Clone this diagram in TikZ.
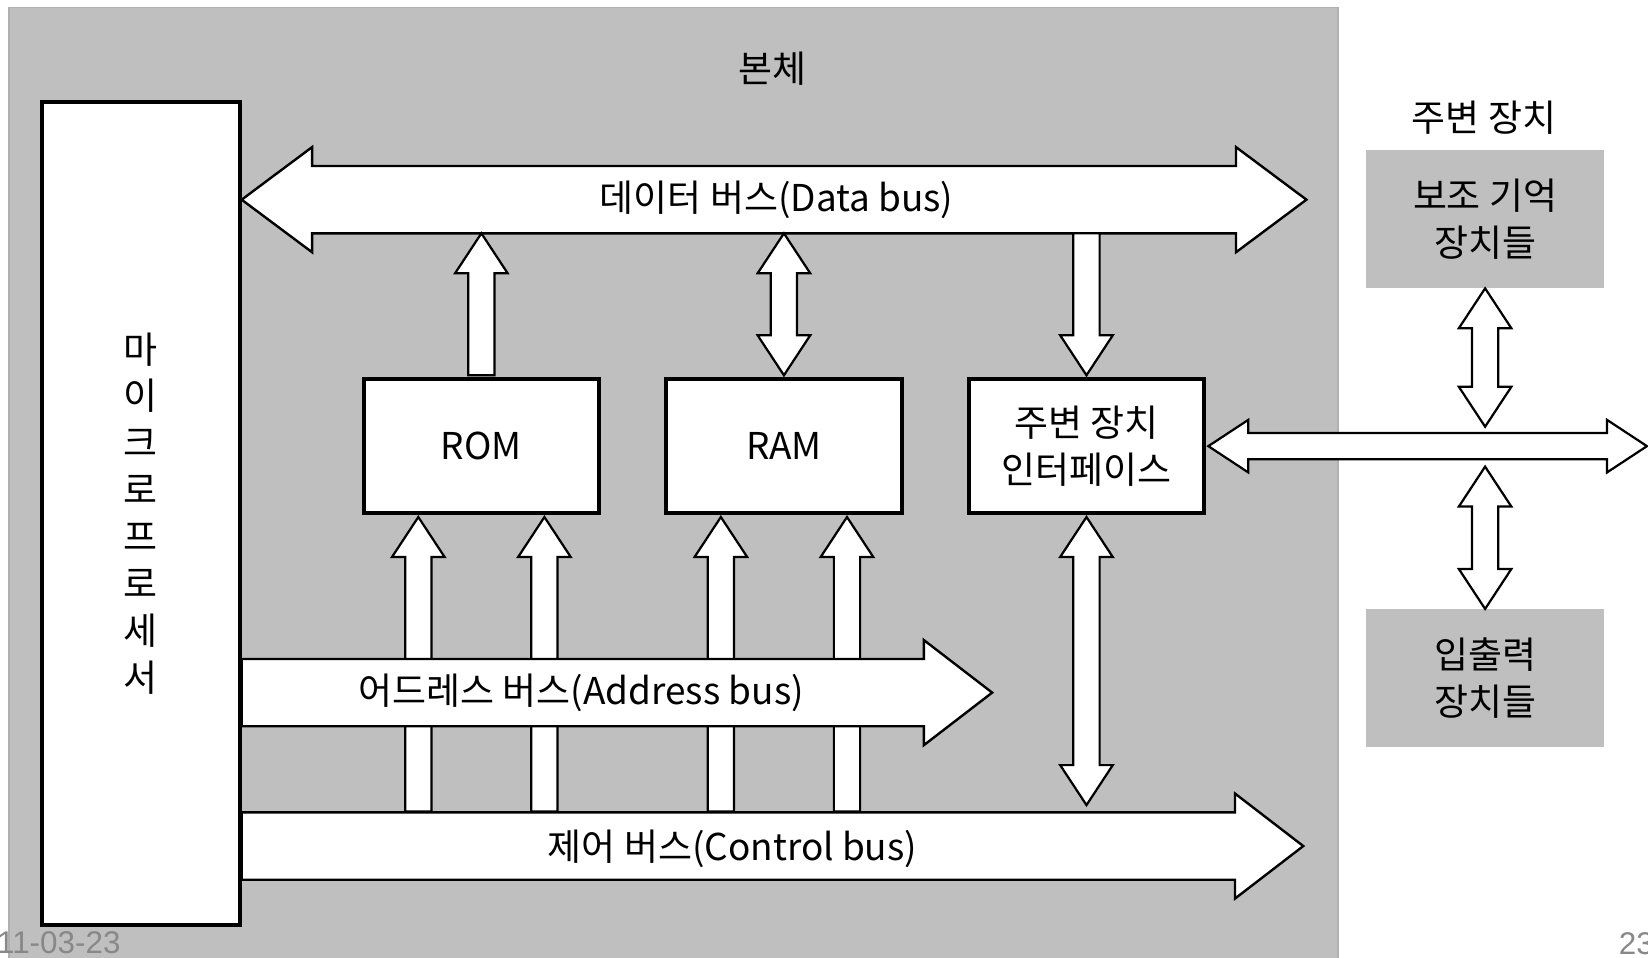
\documentclass[tikz,border=0pt]{standalone}
\usepackage{fontspec}
\setmainfont{Noto Sans CJK KR}
\newfontfamily\footfont{Liberation Sans}
\usetikzlibrary{calc,positioning}
\definecolor{MCgray}{RGB}{191,191,191}
\definecolor{MCedge}{RGB}{176,176,176}
\definecolor{MCfoot}{RGB}{136,136,136}
\tikzset{
  mc text/.style={font=\fontsize{20}{25}\selectfont, inner sep=0pt},
  mc panel/.style={
    fill=MCgray,
    draw=MCedge,
    line width=1pt,
    inner sep=0pt
  },
  mc box/.style={
    mc text,
    draw=black,
    line width=2.2pt,
    fill=white,
    minimum width=4.48cm,
    minimum height=2.54cm,
    align=center
  },
  mc device/.style={
    mc text,
    fill=MCgray,
    minimum width=4.52cm,
    minimum height=2.62cm,
    align=center
  },
  mc block/.style={draw=black, line width=1.2pt, fill=white, line join=miter},
  mc one/.style n args={3}{mc block, to path={
      ($(\tikztostart)!#1!-90:(\tikztotarget)$)
      -- ($(\tikztotarget)!#3!(\tikztostart)!#1!-90:(\tikztotarget)$)
      -- ($(\tikztotarget)!#3!(\tikztostart)!#2!-90:(\tikztotarget)$)
      -- (\tikztotarget)
      -- ($(\tikztotarget)!#3!(\tikztostart)!#2!90:(\tikztotarget)$)
      -- ($(\tikztotarget)!#3!(\tikztostart)!#1!90:(\tikztotarget)$)
      -- ($(\tikztostart)!#1!90:(\tikztotarget)$)
      -- cycle}},
  mc two/.style n args={3}{mc block, to path={
      (\tikztostart)
      -- ($(\tikztostart)!#3!(\tikztotarget)!#2!-90:(\tikztotarget)$)
      -- ($(\tikztostart)!#3!(\tikztotarget)!#1!-90:(\tikztotarget)$)
      -- ($(\tikztotarget)!#3!(\tikztostart)!#1!-90:(\tikztotarget)$)
      -- ($(\tikztotarget)!#3!(\tikztostart)!#2!-90:(\tikztotarget)$)
      -- (\tikztotarget)
      -- ($(\tikztotarget)!#3!(\tikztostart)!#2!90:(\tikztotarget)$)
      -- ($(\tikztotarget)!#3!(\tikztostart)!#1!90:(\tikztotarget)$)
      -- ($(\tikztostart)!#3!(\tikztotarget)!#1!90:(\tikztotarget)$)
      -- ($(\tikztostart)!#3!(\tikztotarget)!#2!90:(\tikztotarget)$)
      -- cycle}},
  mc bus/.style={mc one={0.64cm}{1.0cm}{1.3cm}, line width=1.3pt},
  mc bus both/.style={mc two={0.64cm}{1.0cm}{1.34cm}, line width=1.3pt},
  mc link/.style={mc one={0.25cm}{0.5cm}{0.76cm}},
  mc link both/.style={mc two={0.25cm}{0.5cm}{0.76cm}}
}

\begin{document}
\begin{tikzpicture}[x=1cm,y=1cm]
  \useasboundingbox (0,0) rectangle (31.36,18.22);

  \node[mc panel, anchor=south west, minimum width=25.28cm, minimum height=18.16cm]
    (body) at (0.16,-0.1) {};
  \node[mc text] (body-title) at (14.70,16.92) {본체};

  % chips inside the body
  \node[mc box, minimum width=3.76cm, minimum height=15.66cm,
    font=\fontsize{20}{25.4}\selectfont] (cpu) at (2.68,8.45)
    {마\\이\\크\\로\\프\\로\\세\\서};
  \node[mc box] (rom) at (9.16,9.73) {ROM};
  \node[mc box, right=1.2cm of rom] (ram) {RAM};
  \node[mc box, right=1.2cm of ram] (iface) {주변 장치\\인터페이스};

  \coordinate (data-e) at (24.86,14.42);
  \coordinate (data-bot) at (24.86,13.78);
  \coordinate (addr-e) at (18.88,5.04);
  \coordinate (ctrl-e) at (24.80,2.12);
  \coordinate (ctrl-top) at (24.80,2.78);

  % address lines run under the address bus
  \foreach \chip in {rom,ram}
    \foreach \dx in {-1.2,1.2}
      \draw[mc link] ($(\chip.south |- ctrl-top)+(\dx,0)$) to ($(\chip.south)+(\dx,-0.04)$);
  \draw[mc link both] ($(iface.south)+(0,-0.04)$) to ($(iface.south |- ctrl-top)+(0,0.12)$);

  \draw[mc bus] (cpu.east |- ctrl-e) to (ctrl-e);
  \draw[mc bus] (cpu.east |- addr-e) to (addr-e);
  \draw[mc bus both] (cpu.east |- data-e) to (data-e);

  \draw[mc link] ($(rom.north)+(0,0.04)$) to (rom.north |- data-bot);
  \draw[mc link both] ($(ram.north)+(0,0.04)$) to (ram.north |- data-bot);
  \draw[mc link] (iface.north |- data-bot) to ($(iface.north)+(0,0.04)$);

  \node[mc text] (data-label) at (14.78,14.42) {데이터 버스(Data bus)};
  \node[mc text] (addr-label) at (11.06,5.04) {어드레스 버스(Address bus)};
  \node[mc text] (ctrl-label) at (13.94,2.06) {제어 버스(Control bus)};

  % peripherals
  \node[mc text] (peri-title) at (28.24,15.98) {주변 장치};
  \node[mc device] (aux) at (28.26,14.05) {보조 기억\\장치들};
  \node[mc device, below=6.1cm of aux] (io) {입출력\\장치들};

  \coordinate (ext-e) at (31.34,9.72);
  \coordinate (ext-n) at (31.34,10.10);
  \coordinate (ext-s) at (31.34,9.34);
  \draw[mc link both] ($(iface.east)+(0.04,0)$) to (iface.east -| ext-e);
  \draw[mc link both] (aux.south) to (aux.south |- ext-n);
  \draw[mc link both] (aux.south |- ext-s) to (io.north);

  \node[font=\footfont\fontsize{17}{20}\selectfont, text=MCfoot, inner sep=0pt,
    anchor=base east] (date) at (2.30,0.08) {11-03-23};
  \node[font=\footfont\fontsize{17}{20}\selectfont, text=MCfoot, inner sep=0pt,
    anchor=base west] (page) at (30.80,0.05) {23};
\end{tikzpicture}
\end{document}
